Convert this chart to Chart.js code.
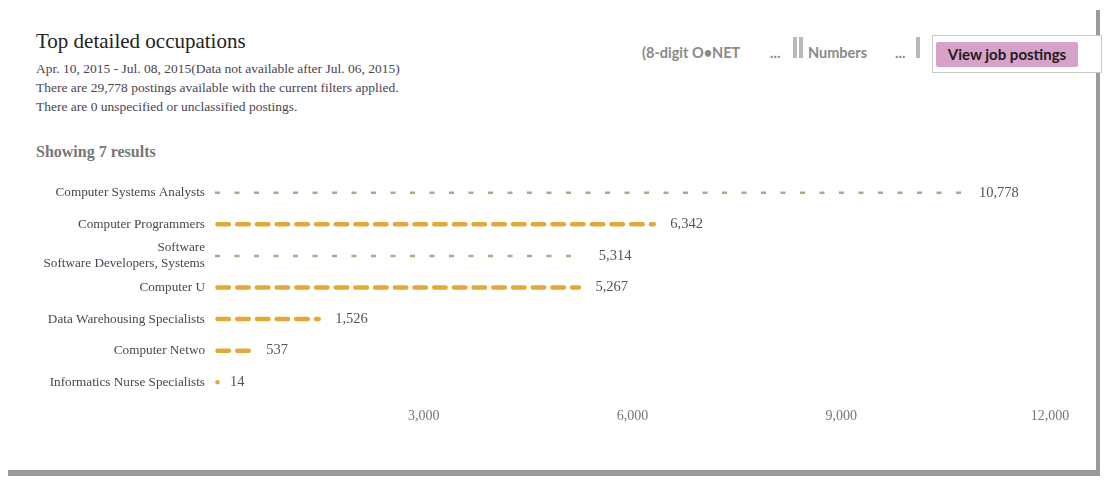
<!DOCTYPE html>
<html>
<head>
<meta charset="utf-8">
<script src="https://cdn.jsdelivr.net/npm/chart.js@4.4.1/dist/chart.umd.min.js"></script>
<style>
  body { margin: 0; background: #fff; width: 1105px; height: 480px; overflow: hidden; position: relative; font-family: "Liberation Serif", serif; }
  .frameR { position: absolute; left: 1096px; top: 10px; width: 4px; height: 462px; background: #9b9b9b; }
  .frameB { position: absolute; left: 8px; top: 470px; width: 1092px; height: 6px; background: #9a9a9a; }
  .title { position: absolute; left: 36px; top: 29px; font-size: 21px; color: #222; }
  .sub { position: absolute; left: 36px; font-size: 13.5px; color: #4a4452; }
  .showing { position: absolute; left: 36px; top: 143px; font-size: 16px; color: #777; font-weight: bold; }
  .hdr { position: absolute; top: 44px; font-family: Lato, "DejaVu Sans", sans-serif; font-weight: bold; font-size: 14.5px; color: #8a8a8a; }
  .vbar { position: absolute; top: 37px; width: 4px; height: 21px; background: #bdb6ba; }
  .btnbox { position: absolute; left: 932px; top: 35px; width: 170px; height: 38px; border: 1px solid #ccc; box-sizing: border-box; background: #fff; }
  .btn { position: absolute; left: 936px; top: 42px; width: 142px; height: 25px; background: #d6a2c8; border-radius: 2px;
         font-family: Lato, "DejaVu Sans", sans-serif; font-weight: bold; font-size: 15px; color: #231a22; text-align: center; line-height: 25px; }
  #chart { position: absolute; left: 0; top: 159px; }
</style>
</head>
<body>
<div class="frameR"></div>
<div class="frameB"></div>
<div class="title">Top detailed occupations</div>
<div class="sub" style="top:61px">Apr. 10, 2015 - Jul. 08, 2015(Data not available after Jul. 06, 2015)</div>
<div class="sub" style="top:80px">There are 29,778 postings available with the current filters applied.</div>
<div class="sub" style="top:99px">There are 0 unspecified or unclassified postings.</div>
<div class="showing">Showing 7 results</div>

<div class="hdr" style="left:642px">(8-digit O•NET</div>
<div class="hdr" style="left:770px">...</div>
<div class="vbar" style="left:793px"></div>
<div class="vbar" style="left:799px"></div>
<div class="hdr" style="left:808px">Numbers</div>
<div class="hdr" style="left:895px">...</div>
<div class="vbar" style="left:916px"></div>
<div class="btnbox"></div>
<div class="btn">View job postings</div>

<canvas id="chart" width="1090" height="267"></canvas>

<script>
// donnees
const occupations = [
  "Computer Systems Analysts",
  "Computer Programmers",
  ["Software", "Software Developers, Systems"],
  "Computer U",
  "Data Warehousing Specialists",
  "Computer Netwo",
  "Informatics Nurse Specialists"
];
const postings = [10778, 6342, 5314, 5267, 1526, 537, 14];
const xTicks = [3000, 6000, 9000, 12000];

// style des tirets par ligne (fin gris / epais orange)
const rowLook = ["thin", "thick", "thin", "thick", "thick", "thick", "thick"];

const dashBars = {
  id: "dashBars",
  afterDatasetsDraw(chart) {
    const ctx = chart.ctx;
    const meta = chart.getDatasetMeta(0);
    ctx.save();
    meta.data.forEach((bar, i) => {
      const thick = rowLook[i] === "thick";
      ctx.beginPath();
      if (thick) {
        ctx.lineWidth = 4.5;
        ctx.lineCap = "round";
        ctx.setLineDash([11.5, 8.2]);
        ctx.strokeStyle = "#e3a938";
        ctx.moveTo(bar.base + 2.5, bar.y);
        ctx.lineTo(Math.max(bar.x - 2.5, bar.base + 2.5), bar.y);
      } else {
        ctx.lineWidth = 2.5;
        ctx.lineCap = "butt";
        ctx.setLineDash([5, 14.5]);
        ctx.strokeStyle = "#b5a77f";
        ctx.moveTo(bar.base, bar.y);
        ctx.lineTo(bar.x, bar.y);
      }
      ctx.stroke();
      // etiquette de valeur
      ctx.setLineDash([]);
      ctx.fillStyle = "#555";
      ctx.font = "14.5px 'Liberation Serif'";
      ctx.textBaseline = "middle";
      ctx.textAlign = "left";
      ctx.fillText(postings[i].toLocaleString("en-US"), bar.x + 14, bar.y);
    });
    ctx.restore();
  }
};

const ctx = document.getElementById("chart");
const occChart = new Chart(ctx, {
  type: "bar",
  data: {
    labels: occupations,
    datasets: [
      {
        data: postings,
        backgroundColor: "rgba(0,0,0,0)",
        barThickness: 6,
      },
    ],
  },
  options: {
    indexAxis: "y",
    responsive: false,
    animation: false,
    devicePixelRatio: 1,
    layout: { padding: { top: 0, right: 40, bottom: 0, left: 0 } },
    plugins: {
      legend: { display: false },
      tooltip: { enabled: false },
    },
    scales: {
      x: {
        min: 0,
        max: 12000,
        afterBuildTicks: (scale) => {
          scale.ticks = xTicks.map((v) => ({ value: v }));
        },
        afterFit: (scale) => {
          scale.height = 28;
        },
        grid: { display: false, drawTicks: false },
        border: { display: false },
        ticks: {
          padding: 10,
          color: "#777",
          font: { family: "Liberation Serif", size: 14 },
          callback: (v) => Number(v).toLocaleString("en-US"),
        },
      },
      y: {
        afterFit: (scale) => {
          scale.width = 215;
        },
        grid: { display: false, drawTicks: false },
        border: { display: false },
        ticks: {
          autoSkip: false,
          padding: 10,
          color: "#4a4452",
          font: { family: "Liberation Serif", size: 13.2 },
        },
      },
    },
  },
  plugins: [dashBars],
});
</script>
</body>
</html>
